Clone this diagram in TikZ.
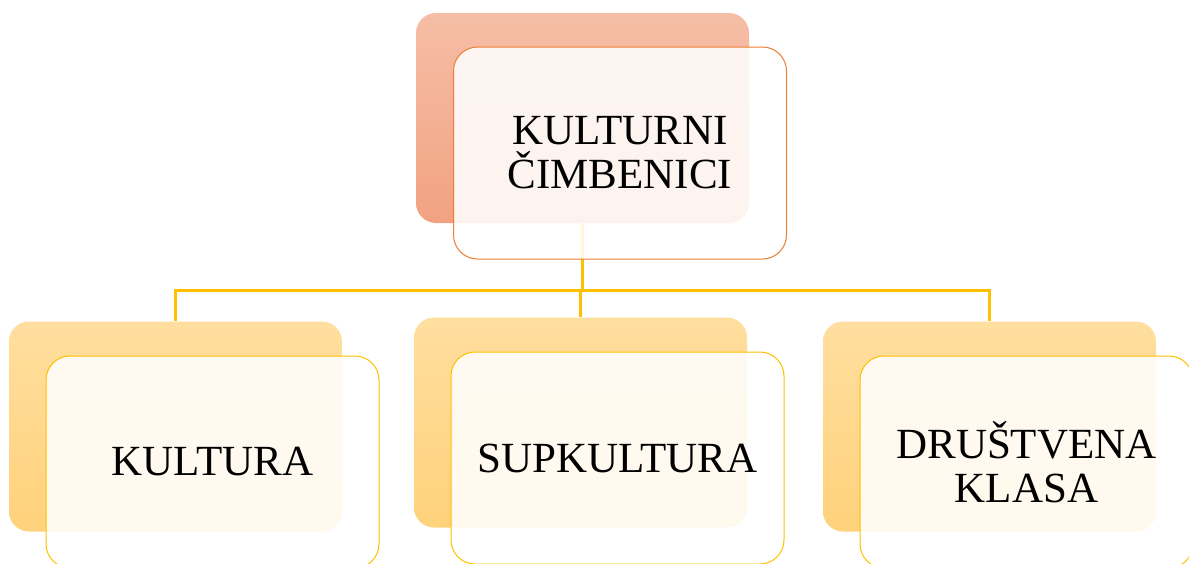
\documentclass[tikz,border=0pt]{standalone}
\usepackage{fontspec}
\setmainfont{Liberation Serif}
\definecolor{salmonT}{HTML}{F5BEA6}
\definecolor{salmonB}{HTML}{F2A282}
\definecolor{orangeLine}{HTML}{ED7D31}
\definecolor{goldT}{HTML}{FFDE9F}
\definecolor{goldB}{HTML}{FFD27B}
\definecolor{goldLine}{HTML}{FFC000}
\tikzset{
  backbox/.style={rounded corners=20pt, minimum width=333pt, minimum height=210pt, inner sep=0pt, draw=none},
  backtop/.style={backbox, top color=salmonT, bottom color=salmonB},
  backbot/.style={backbox, top color=goldT, bottom color=goldB},
  frontbox/.style={rounded corners=24pt, minimum width=333pt, minimum height=212pt, inner sep=0pt,
     fill=white, fill opacity=0.87, text opacity=1, line width=1pt, align=center,
     font=\fontsize{43}{44}\selectfont},
  fronttop/.style={frontbox, draw=orangeLine},
  frontbot/.style={frontbox, draw=goldLine},
  conn/.style={draw=goldLine, line width=2.6pt}
}
\begin{document}
\begin{tikzpicture}[x=1pt,y=-1pt]
\useasboundingbox (0,0) rectangle (1189,563);
\node[backtop] (tb) at (582.5,118) {};
\node[backbot] (lb) at (175.5,426.5) {};
\node[backbot] (mb) at (580.5,422.5) {};
\node[backbot] (rb) at (989.5,426.5) {};
\draw[conn] (tb.south) -- ++(0,67) coordinate (bus) -| (lb.north);
\draw[conn] (bus) -| (rb.north);
\draw[conn] (bus) -| (mb.north);
\node[fronttop] (tf) at (620,153) {KULTURNI\\ČIMBENICI};
\node[frontbot] (lf) at (212.5,462) {KULTURA};
\node[frontbot] (mf) at (617.5,458) {SUPKULTURA};
\node[frontbot] (rf) at (1026.5,462) {DRUŠTVENA\\KLASA};
\end{tikzpicture}
\end{document}
